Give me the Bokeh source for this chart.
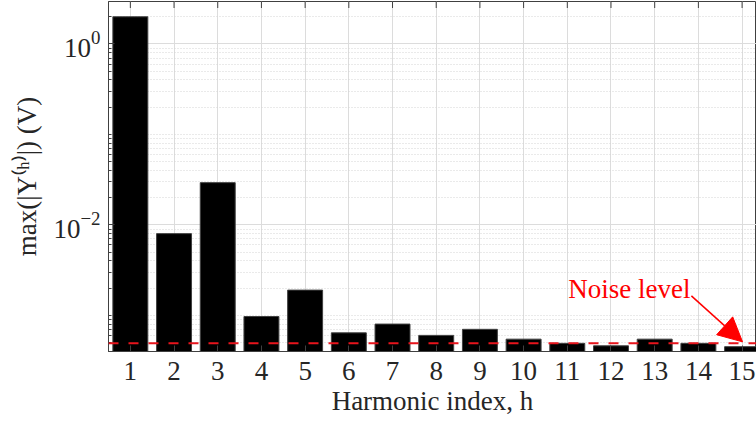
import math
from bokeh.plotting import figure
from bokeh.models import (Range1d, FixedTicker, Span, Arrow, NormalHead,
                          ColumnDataSource, Label)
from bokeh.embed import file_html
from bokeh.resources import INLINE

# ---- data ----
harmonics = list(range(1, 16))
amplitude = [2.0, 0.008, 0.0293, 0.00097, 0.0019, 0.00064, 0.0008, 0.0006, 0.0007,
             0.000545, 0.00049, 0.00046, 0.000545, 0.00049, 0.00045]
noise_level = 4.9e-4
x_tick_labels = [str(h) for h in harmonics]
y_major_ticks = [1.0, 1e-2]
annot_text = "Noise level"
x_title = "Harmonic index, h"
y_title = "max(|Y⁽ʰ⁾|) (V)"
x_left, x_right = 0.5, 15.33
y_bottom, y_top = 3.98e-4, 2.95

FONT = "Liberation Serif"
FS = "27px"
TXT = "#262626"
AX = "#404040"

p = figure(width=756, height=430, output_backend="svg", toolbar_location=None,
           y_axis_type="log",
           x_range=Range1d(x_left, x_right), y_range=Range1d(y_bottom, y_top),
           min_border_left=108, min_border_right=0, min_border_top=1,
           min_border_bottom=79)
p.outline_line_color = AX
p.outline_line_width = 1
p.background_fill_color = "white"

src = ColumnDataSource(dict(x=harmonics, top=amplitude))
p.vbar(x="x", top="top", bottom=1e-4, width=0.8, source=src,
       fill_color="black", line_color="#404040", line_width=1)

# top-edge inward ticks
p.scatter(x=harmonics, y=[y_top] * len(harmonics), marker="dash", angle=math.pi / 2,
          size=13, line_color=AX, line_width=1)

# y ticks
minor = []
for e in range(-4, 1):
    for m in range(1, 10):
        v = m * 10.0 ** e
        if v not in (1.0, 1e-2):
            minor.append(v)
p.yaxis.ticker = FixedTicker(ticks=y_major_ticks, minor_ticks=minor)
p.xaxis.ticker = FixedTicker(ticks=harmonics)
p.xaxis.major_label_overrides = {h: l for h, l in zip(harmonics, x_tick_labels)}

for ax in (p.xaxis[0], p.yaxis[0]):
    ax.axis_line_color = AX
    ax.major_tick_line_color = AX
    ax.minor_tick_line_color = AX
    ax.major_tick_in = 6
    ax.major_tick_out = 0
    ax.minor_tick_in = 3
    ax.minor_tick_out = 0
    ax.major_label_text_font = FONT
    ax.major_label_text_font_size = FS
    ax.major_label_text_color = TXT
    ax.axis_label_text_font = FONT
    ax.axis_label_text_font_size = FS
    ax.axis_label_text_font_style = "normal"
    ax.axis_label_text_color = TXT

p.xaxis.minor_tick_in = 0
p.xaxis.major_label_standoff = 10
p.xaxis.axis_label_standoff = 3
p.xaxis.axis_label = x_title
p.yaxis.major_label_standoff = 8
p.yaxis.axis_label = y_title
p.yaxis.axis_label_standoff = 8

# grids
p.xgrid.grid_line_color = "#dcdcdc"
p.ygrid.grid_line_color = "#dcdcdc"
p.ygrid.minor_grid_line_color = "#d4d4d4"
p.ygrid.minor_grid_line_dash = "1 2"

# noise level
p.add_layout(Span(location=noise_level, dimension="width", line_color="#e8141c",
                  line_dash="10 10", line_width=2))
p.add_layout(Arrow(x_start=13.84, y_start=1.64e-3, x_end=15.01, y_end=5.09e-4,
                   line_color="red", line_width=1.5,
                   end=NormalHead(size=24, fill_color="red", line_color="red")))
p.add_layout(Label(x=12.42, y=1.96e-3, text=annot_text, text_align="center",
                   text_baseline="alphabetic", text_font=FONT, text_font_size=FS,
                   text_color="red"))

open("out.html", "w").write(file_html(p, INLINE))
